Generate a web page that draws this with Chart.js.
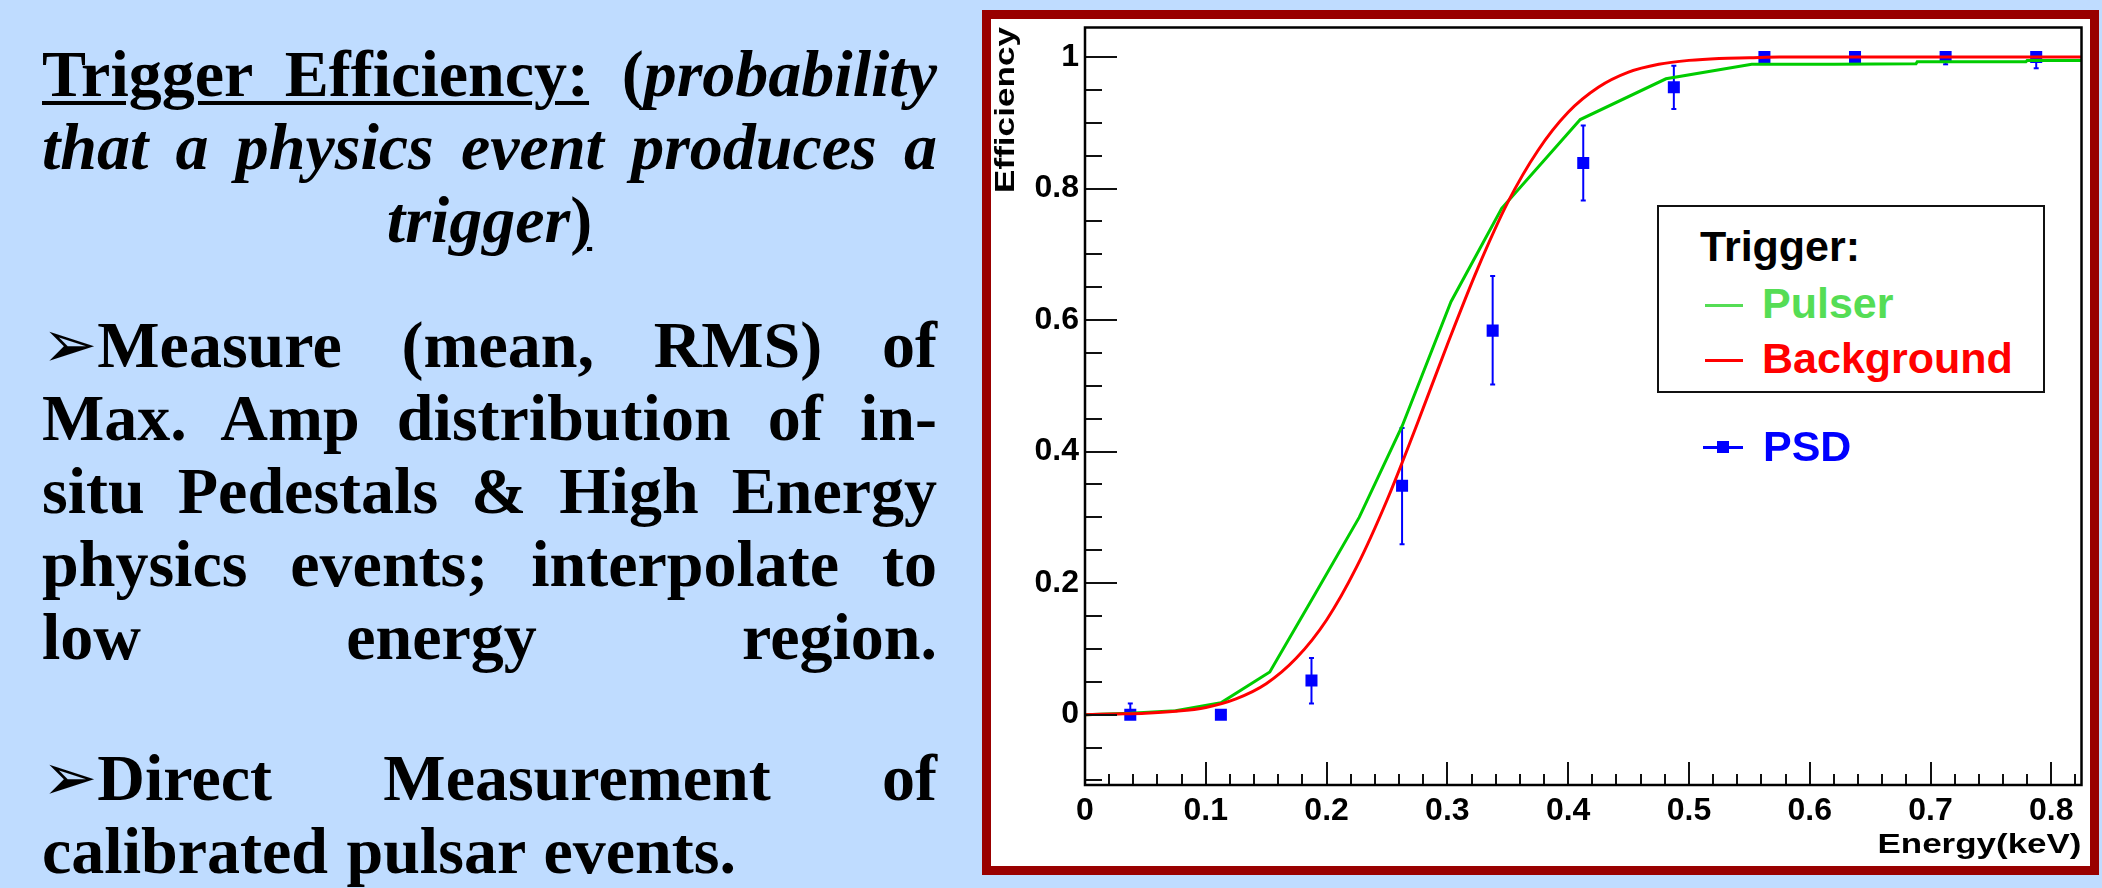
<!DOCTYPE html>
<html>
<head>
<meta charset="utf-8">
<script src="https://cdn.jsdelivr.net/npm/chart.js@4.4.0/dist/chart.umd.min.js"></script>
<style>
html,body{margin:0;padding:0;}
body{width:2102px;height:888px;background:#bfdcff;position:relative;overflow:hidden;}
#text{position:absolute;left:42px;top:37px;width:895px;font-family:"Liberation Serif","Times New Roman",serif;font-weight:bold;font-size:66px;line-height:73px;color:#000;}
.ln{text-align:justify;text-align-last:justify;}
.ctr{text-align:center;text-align-last:center;}
.lft{text-align:left;text-align-last:left;word-spacing:2px;}
.g1{height:52px;}
.g2{height:68px;}
.u{text-decoration:underline;text-decoration-thickness:4px;text-underline-offset:5px;}
i{font-style:italic;}
.bul{font-family:"DejaVu Sans",sans-serif;font-size:66px;font-weight:normal;line-height:10px;}
#frame{position:absolute;left:982px;top:10px;width:1117px;height:865px;box-sizing:border-box;border:9px solid #990000;background:#fff;}
#c{position:absolute;left:991px;top:19px;}
.lg{position:absolute;font-family:"Liberation Sans",Arial,sans-serif;font-weight:bold;font-size:43px;line-height:43px;white-space:nowrap;}
#legbox{position:absolute;left:1657px;top:205px;width:388px;height:188px;box-sizing:border-box;border:2px solid #111;background:#fff;}
.sw{position:absolute;height:3px;}
</style>
</head>
<body>
<div id="text">
  <div class="ln"><span class="u">Trigger Efficiency:</span> (<i>probability</i></div>
  <div class="ln"><i>that a physics event produces a</i></div>
  <div class="ctr"><i>trigger</i><span class="u">)</span></div>
  <div class="g1"></div>
  <div class="ln"><span class="bul">➢</span>Measure (mean, RMS) of</div>
  <div class="ln">Max. Amp distribution of in-</div>
  <div class="ln">situ Pedestals &amp; High Energy</div>
  <div class="ln">physics events; interpolate to</div>
  <div class="ln">low energy region.</div>
  <div class="g2"></div>
  <div class="ln"><span class="bul">➢</span>Direct Measurement of</div>
  <div class="lft">calibrated pulsar events.</div>
</div>

<div id="frame"></div>
<canvas id="c" width="1099" height="847"></canvas>

<div id="legbox"></div>
<div id="legend"></div>

<script>
// ---------- data ----------
const seriesNames = ['Pulser', 'Background', 'PSD'];
const legendHeader = 'Trigger:';
const xAxisTitle = 'Energy(keV)';
const yAxisTitle = 'Efficiency';

const xMajorTicks = [0, 0.1, 0.2, 0.3, 0.4, 0.5, 0.6, 0.7, 0.8];
const xTickLabels = ['0', '0.1', '0.2', '0.3', '0.4', '0.5', '0.6', '0.7', '0.8'];
const xMinorTicks = [0.02, 0.04, 0.06, 0.08, 0.12, 0.14, 0.16, 0.18, 0.22, 0.24, 0.26, 0.28,
  0.32, 0.34, 0.36, 0.38, 0.42, 0.44, 0.46, 0.48, 0.52, 0.54, 0.56, 0.58, 0.62, 0.64, 0.66, 0.68,
  0.72, 0.74, 0.76, 0.78, 0.82];
const yMajorTicks = [0, 0.2, 0.4, 0.6, 0.8, 1];
const yTickLabels = ['0', '0.2', '0.4', '0.6', '0.8', '1'];
const yMinorTicks = [-0.1, -0.05, 0.05, 0.1, 0.15, 0.25, 0.3, 0.35, 0.45, 0.5, 0.55, 0.65, 0.7, 0.75,
  0.85, 0.9, 0.95];

// Pulser trigger efficiency (green)
const pulserX = [0, 0.0375, 0.075, 0.1125, 0.153, 0.19, 0.227, 0.2626, 0.303, 0.345, 0.41, 0.481, 0.552, 0.62, 0.688, 0.689, 0.779, 0.78, 0.825];
const pulserY = [0.000, 0.002, 0.006, 0.018, 0.065, 0.182, 0.300, 0.439, 0.628, 0.770, 0.905, 0.967, 0.989, 0.989, 0.990, 0.993, 0.993, 0.995, 0.995];

// Background trigger efficiency (red)
const backgroundX = [0, 0.025, 0.05, 0.075, 0.1, 0.125, 0.15, 0.175, 0.2, 0.225, 0.25, 0.275, 0.3, 0.325,
  0.35, 0.375, 0.4, 0.425, 0.45, 0.475, 0.5, 0.525, 0.55, 0.575, 0.6, 0.65, 0.7, 0.75, 0.8, 0.825];
const backgroundY = [0.000, 0.001, 0.002, 0.005, 0.011, 0.024, 0.047, 0.086, 0.144, 0.225, 0.326, 0.442, 0.563, 0.678,
  0.779, 0.858, 0.916, 0.954, 0.977, 0.989, 0.995, 0.998, 0.999, 1.000, 1.000, 1.000, 1.000, 1.000, 1.000, 1.000];

// PSD measured points (blue) with asymmetric errors
const psdX = [0.0375, 0.1125, 0.1875, 0.2625, 0.3375, 0.4125, 0.4875, 0.5625, 0.6375, 0.7125, 0.7875];
const psdY = [0.000, 0.000, 0.052, 0.348, 0.584, 0.839, 0.954, 1.000, 1.000, 1.000, 1.000];
const psdErrLow = [0.000, 0.000, 0.035, 0.089, 0.082, 0.057, 0.033, 0.005, 0.005, 0.011, 0.017];
const psdErrHigh = [0.017, 0.000, 0.034, 0.088, 0.083, 0.057, 0.033, 0.000, 0.000, 0.000, 0.000];

// ---------- style ----------
const GREEN = '#00cc00', RED = '#ff0000', BLUE = '#0000ff', LEG_GREEN = '#55dd55';
const SANS = '"Liberation Sans", Arial, Helvetica, sans-serif';

// ---------- legend (HTML) ----------
(function(){
  const L = document.getElementById('legend');
  function txt(s, x, baseline, color){
    const d = document.createElement('div');
    d.className = 'lg'; d.textContent = s;
    d.style.left = x + 'px'; d.style.top = (baseline - 36.4) + 'px'; d.style.color = color;
    L.appendChild(d);
  }
  function sw(x, y, w, color){
    const d = document.createElement('div');
    d.className = 'sw'; d.style.left = x + 'px'; d.style.top = y + 'px';
    d.style.width = w + 'px'; d.style.background = color;
    L.appendChild(d);
  }
  txt(legendHeader, 1700, 261, '#000');
  sw(1705, 304, 38, LEG_GREEN); txt(seriesNames[0], 1762, 318, LEG_GREEN);
  sw(1705, 359, 38, RED); txt(seriesNames[1], 1762, 373, RED);
  sw(1703, 446, 40, BLUE);
  const sq = document.createElement('div');
  sq.style.cssText = 'position:absolute;left:1717px;top:441px;width:12px;height:12px;background:' + BLUE;
  L.appendChild(sq);
  txt(seriesNames[2], 1763, 461, BLUE);
})();

// ---------- ROOT-like frame, ticks, error bars, titles ----------
const rootPlugin = {
  id: 'rootLook',
  beforeDatasetsDraw(chart){
    const ctx = chart.ctx, xs = chart.scales.x, ys = chart.scales.y;
    ctx.save();
    ctx.strokeStyle = BLUE; ctx.lineWidth = 2;
    psdX.forEach((xv, i) => {
      const px = xs.getPixelForValue(xv);
      const yTop = ys.getPixelForValue(psdY[i] + psdErrHigh[i]);
      const yBot = ys.getPixelForValue(psdY[i] - psdErrLow[i]);
      if (yBot - yTop < 0.5) return;
      ctx.beginPath(); ctx.moveTo(px, yTop); ctx.lineTo(px, yBot); ctx.stroke();
      ctx.beginPath();
      if (psdErrHigh[i] > 0){ ctx.moveTo(px - 2.5, yTop); ctx.lineTo(px + 2.5, yTop); }
      if (psdErrLow[i] > 0){ ctx.moveTo(px - 2.5, yBot); ctx.lineTo(px + 2.5, yBot); }
      ctx.stroke();
    });
    ctx.restore();
  },
  afterDraw(chart){
    const ctx = chart.ctx, a = chart.chartArea, xs = chart.scales.x, ys = chart.scales.y;
    ctx.save();
    ctx.strokeStyle = '#111'; ctx.lineWidth = 2;
    ctx.beginPath();
    yMajorTicks.forEach(v => { const p = Math.round(ys.getPixelForValue(v)); ctx.moveTo(a.left, p); ctx.lineTo(a.left + 32, p); });
    yMinorTicks.forEach(v => { const p = Math.round(ys.getPixelForValue(v)); ctx.moveTo(a.left, p); ctx.lineTo(a.left + 17, p); });
    xMajorTicks.forEach(v => { const p = Math.round(xs.getPixelForValue(v)); ctx.moveTo(p, a.bottom); ctx.lineTo(p, a.bottom - 23); });
    xMinorTicks.forEach(v => { const p = Math.round(xs.getPixelForValue(v)); ctx.moveTo(p, a.bottom); ctx.lineTo(p, a.bottom - 11); });
    ctx.stroke();
    ctx.lineWidth = 2.5; ctx.strokeStyle = '#000';
    ctx.strokeRect(a.left, a.top, a.right - a.left, a.bottom - a.top);
    // axis titles (stretched like the original)
    ctx.fillStyle = '#000';
    ctx.textBaseline = 'alphabetic';
    ctx.font = 'bold 27px ' + SANS;
    let w = ctx.measureText(xAxisTitle).width;
    ctx.save();
    ctx.translate(a.right, 834);
    ctx.scale(204 / w, 1);
    ctx.textAlign = 'right';
    ctx.fillText(xAxisTitle, 0, 0);
    ctx.restore();
    ctx.font = 'bold 28px ' + SANS;
    w = ctx.measureText(yAxisTitle).width;
    ctx.save();
    ctx.translate(23, 8);
    ctx.rotate(-Math.PI / 2);
    ctx.scale(166 / w, 1);
    ctx.textAlign = 'right';
    ctx.fillText(yAxisTitle, 0, 0);
    ctx.restore();
    ctx.restore();
  }
};

const tickFont = { family: SANS, size: 32, weight: 'bold' };

new Chart(document.getElementById('c').getContext('2d'), {
  type: 'line',
  data: {
    datasets: [
      { label: seriesNames[1], data: backgroundX.map((x, i) => ({ x: x, y: backgroundY[i] })),
        borderColor: RED, borderWidth: 3, pointRadius: 0, cubicInterpolationMode: 'monotone', fill: false, order: 1 },
      { label: seriesNames[0], data: pulserX.map((x, i) => ({ x: x, y: pulserY[i] })),
        borderColor: GREEN, borderWidth: 3, pointRadius: 0, tension: 0, fill: false, order: 2 },
      { label: seriesNames[2], data: psdX.map((x, i) => ({ x: x, y: psdY[i] })),
        showLine: false, pointStyle: 'rect', pointRadius: 8.5, backgroundColor: BLUE, borderWidth: 0, order: 3 }
    ]
  },
  options: {
    responsive: false, animation: false, devicePixelRatio: 1, events: [],
    layout: { padding: { top: 6, right: 7, left: 0, bottom: 0 } },
    plugins: { legend: { display: false }, tooltip: { enabled: false } },
    scales: {
      x: {
        type: 'linear', min: 0, max: 0.825,
        afterBuildTicks: s => { s.ticks = xMajorTicks.map(v => ({ value: v })); },
        afterFit: s => { s.height = 81; s.paddingLeft = 0; s.paddingRight = 0; },
        grid: { display: false, drawTicks: false }, border: { display: false },
        ticks: { callback: (v, i) => xTickLabels[i], font: tickFont, color: '#000', padding: 7, maxRotation: 0, autoSkip: false }
      },
      y: {
        type: 'linear', min: -0.107, max: 1.045,
        afterBuildTicks: s => { s.ticks = yMajorTicks.map(v => ({ value: v })); },
        afterFit: s => { s.width = 94; s.paddingTop = 0; s.paddingBottom = 0; },
        grid: { display: false, drawTicks: false }, border: { display: false },
        ticks: { callback: (v, i) => yTickLabels[i], font: tickFont, color: '#000', padding: 6, autoSkip: false }
      }
    }
  },
  plugins: [rootPlugin]
});
</script>
</body>
</html>
